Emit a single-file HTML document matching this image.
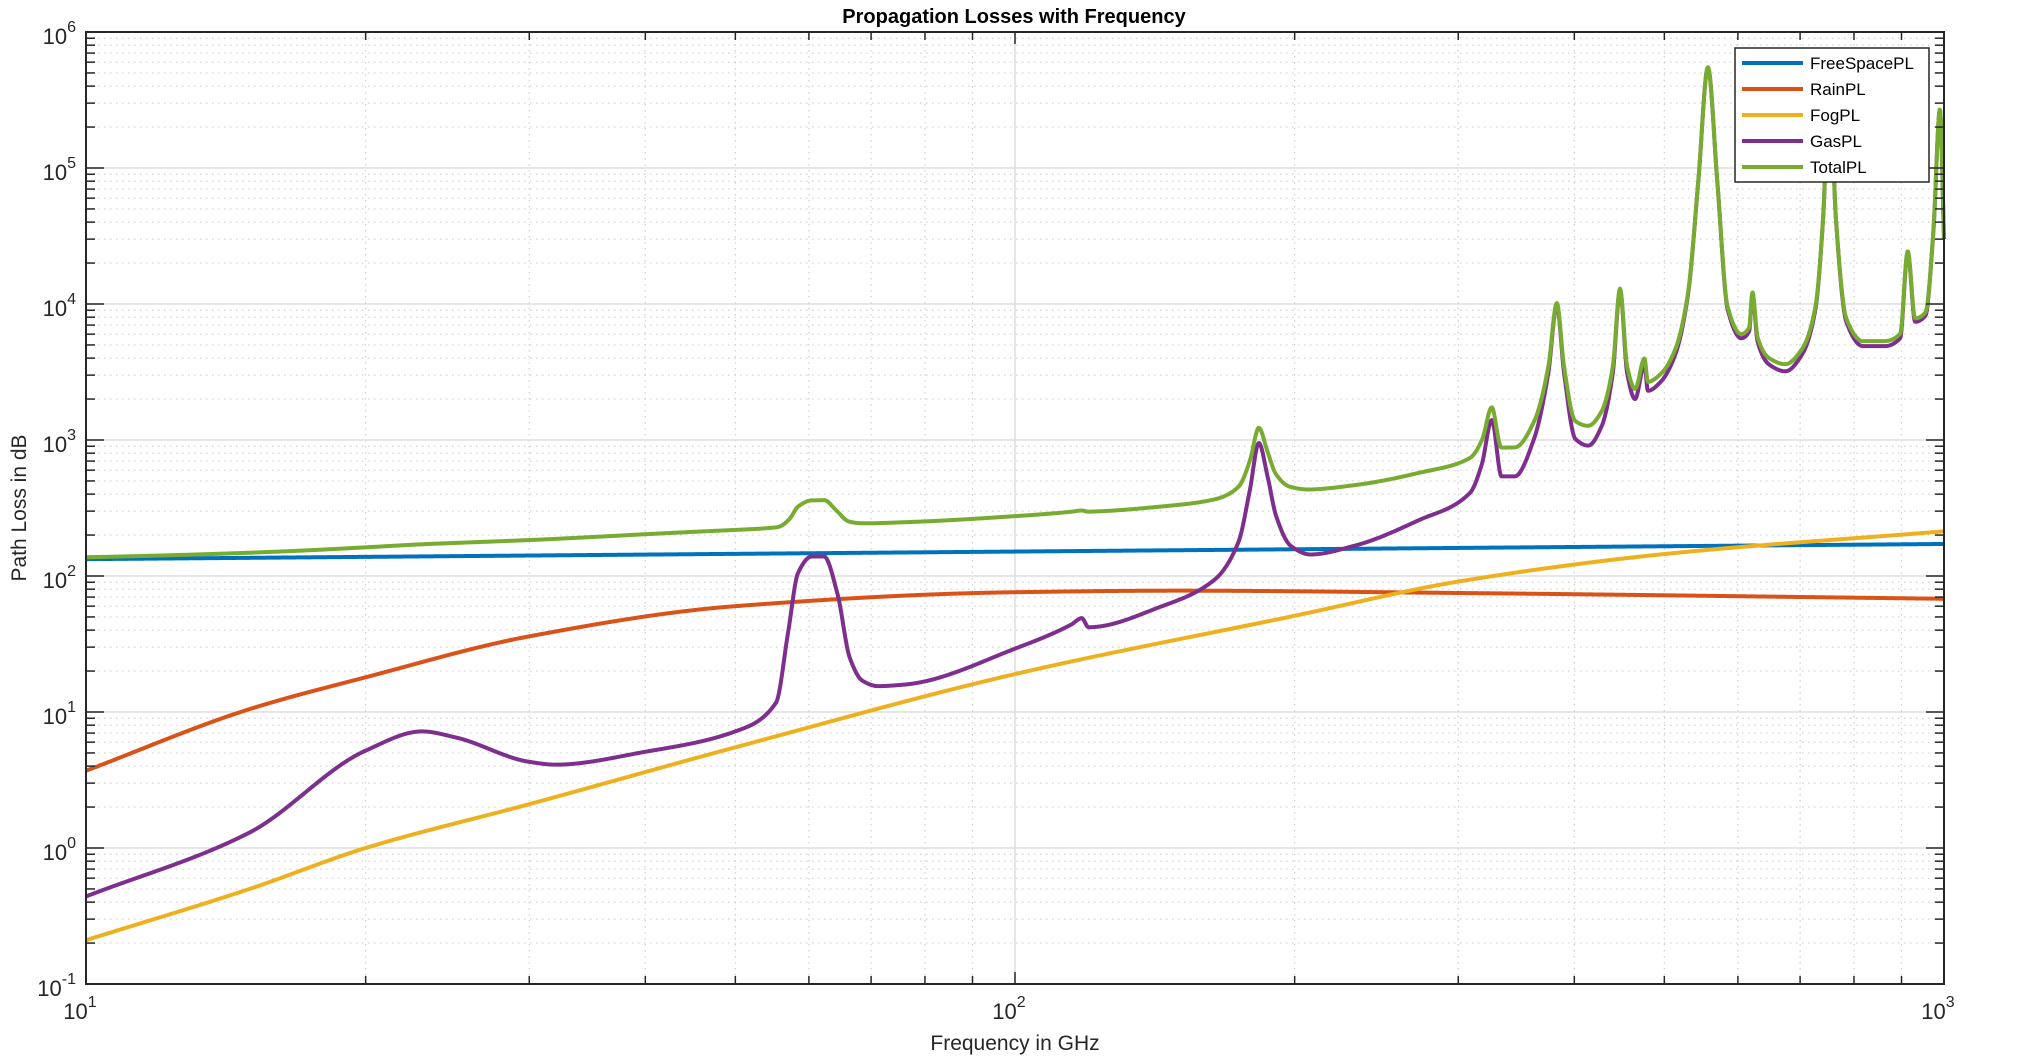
<!DOCTYPE html>
<html><head><meta charset="utf-8"><style>
html,body{margin:0;padding:0;background:#fff;}
svg{display:block;font-family:"Liberation Sans",Arial,sans-serif;}
</style></head><body>
<svg id="chart" width="2021" height="1060" viewBox="0 0 2021 1060" xmlns="http://www.w3.org/2000/svg">
<rect width="2021" height="1060" fill="#fff"/>
<g id="grid"></g>
<g id="series"></g>
<g id="axes"></g>
<text x="1014" y="23" text-anchor="middle" font-size="20" font-weight="bold" fill="#000">Propagation Losses with Frequency</text>
<text x="1015" y="1050" text-anchor="middle" font-size="21" fill="#262626">Frequency in GHz</text>
<text transform="translate(26,508) rotate(-90)" text-anchor="middle" font-size="21" fill="#262626">Path Loss in dB</text>
<g id="legend"></g>
</svg>
<script>
const fsFreq=[10,1000];
const fsVal=[133,172];
const rainFreq=[10,15,20,30,50,100,150,300,1000];
const rainVal=[3.7,10.5,18,36,60,76,78,75,68];
const fogFreq=[10,15,20,30,50,100,200,300,500,1000];
const fogVal=[0.21,0.5,1.0,2.1,5.5,19,51,91,145,213];
const gasFreq=[10,15,20,23,25,30,32,40,50,55.3,57,58.4,60.4,62.3,64.4,66.4,68.5,71.2,76,101,115,118,120,144,164,174,179,183,187,191,198,208,232,272,309,318,326,334,345,362,375,383,390,401,414,428,440,448,456,465,476,480,496,514,530,544,557,570,585,605,617,622,630,648,675,704,727,741,753,765,785,818,863,897,914,931,955,974,990,1000];
const gasVal=[0.44,1.3,5.2,7.2,6.5,4.3,4.1,5.1,7.2,11.7,39,105,139,139,74,25,17,15.5,15.9,30,44,49,42,60,94,178,430,950,540,277,167,144,167,257,410,660,1400,540,540,1020,3100,9800,3100,1020,910,1260,3100,12600,3100,2000,3600,2300,2700,4300,11500,81000,550000,81000,9100,5600,6300,11800,5300,3600,3200,4300,9100,42000,460000,42000,7400,4900,4900,5600,24000,7400,8200,34000,270000,30000];
const legendLabels=["FreeSpacePL","RainPL","FogPL","GasPL","TotalPL"];
const colors=["#0072BD","#D95319","#EDB120","#7E2F8E","#77AC30"];
const xTickExp=[1,2,3];
const yTickExp=[-1,0,1,2,3,4,5,6];

const X0=86,X1=1944,Y0=32,Y1=984;
const xs=f=>X0+(Math.log10(f)-1)/2*(X1-X0);
const ys=v=>Y1-(Math.log10(v)+1)/7*(Y1-Y0);
const NS="http://www.w3.org/2000/svg";
function mk(tag,attrs,parent){const e=document.createElementNS(NS,tag);for(const k in attrs)e.setAttribute(k,attrs[k]);parent.appendChild(e);return e;}
// monotone cubic (PCHIP) interpolation in log-log space
function makeInterp(F,V){
  const x=F.map(Math.log10),y=V.map(Math.log10),n=x.length;
  const h=[],d=[];for(let i=0;i<n-1;i++){h.push(x[i+1]-x[i]);d.push((y[i+1]-y[i])/h[i]);}
  const m=new Array(n).fill(0);
  if(n===2){m[0]=m[1]=d[0];}
  else{
    for(let i=1;i<n-1;i++){ if(d[i-1]*d[i]<=0)m[i]=0; else {const w1=2*h[i]+h[i-1],w2=h[i]+2*h[i-1];m[i]=(w1+w2)/(w1/d[i-1]+w2/d[i]);} }
    m[0]=d[0];m[n-1]=d[n-2];
  }
  return f=>{const lf=Math.log10(f);let i=0;while(i<n-2&&lf>x[i+1])i++;
    const t=Math.min(1,Math.max(0,(lf-x[i])/h[i])),t2=t*t,t3=t2*t;
    const v=(2*t3-3*t2+1)*y[i]+(t3-2*t2+t)*h[i]*m[i]+(-2*t3+3*t2)*y[i+1]+(t3-t2)*h[i]*m[i+1];
    return Math.pow(10,v);};
}
const grid=document.getElementById('grid');
for(let d=1;d<3;d++)for(let m=2;m<=9;m++){const x=xs(m*Math.pow(10,d));
  const l=mk('line',{x1:x,x2:x,y1:Y0,y2:Y1,stroke:'#d0d0d0','stroke-width':1.2,'stroke-dasharray':'1.5 4.5'},grid);
  }
for(let d=-1;d<6;d++)for(let m=2;m<=9;m++){const y=ys(m*Math.pow(10,d));
  const l=mk('line',{x1:X0,x2:X1,y1:y,y2:y,stroke:'#d0d0d0','stroke-width':1.2,'stroke-dasharray':'1.5 4.5'},grid);
  }
xTickExp.forEach(e=>{const x=xs(Math.pow(10,e));const l=mk('line',{x1:x,x2:x,y1:Y0,y2:Y1,stroke:'#dedede','stroke-width':1.5},grid);
  });
yTickExp.forEach(e=>{const y=ys(Math.pow(10,e));const l=mk('line',{x1:X0,x2:X1,y1:y,y2:y,stroke:'#dedede','stroke-width':1.5},grid);
  });

const NP=3000;const freqs=[];for(let i=0;i<=NP;i++)freqs.push(Math.pow(10,1+2*i/NP));
const allSeries=[[fsFreq,fsVal],[rainFreq,rainVal],[fogFreq,fogVal],[gasFreq,gasVal]];
const vals=allSeries.map(s=>{const fn=makeInterp(s[0],s[1]);return freqs.map(fn);});
vals.push(freqs.map((f,i)=>vals[0][i]+vals[1][i]+vals[2][i]+vals[3][i]));
const sg=document.getElementById('series');
const names=['freespace-line','rain-line','fog-line','gas-line','total-line'];
vals.forEach((v,k)=>{
  const d=freqs.map((f,i)=>(i?'L':'M')+xs(f).toFixed(2)+' '+ys(v[i]).toFixed(2)).join(' ');
  const p=mk('path',{d:d,fill:'none',stroke:colors[k],'stroke-width':4,'stroke-linejoin':'round'},sg);
  
});

const ax=document.getElementById('axes');
const box=mk('rect',{x:X0,y:Y0,width:X1-X0,height:Y1-Y0,fill:'none',stroke:'#262626','stroke-width':2},ax);

for(let d=1;d<3;d++)for(let m=1;m<=9;m++){const x=xs(m*Math.pow(10,d));const len=m===1?12:8;
  let t=mk('line',{x1:x,x2:x,y1:Y1,y2:Y1-len,stroke:'#262626','stroke-width':1.5},ax);
  t=mk('line',{x1:x,x2:x,y1:Y0,y2:Y0+len,stroke:'#262626','stroke-width':1.5},ax);}
for(let d=-1;d<6;d++)for(let m=1;m<=9;m++){const y=ys(m*Math.pow(10,d));const len=m===1?18:9;
  let t=mk('line',{x1:X0,x2:X0+len,y1:y,y2:y,stroke:'#262626','stroke-width':1.5},ax);
  t=mk('line',{x1:X1,x2:X1-len,y1:y,y2:y,stroke:'#262626','stroke-width':1.5},ax);}
xTickExp.forEach(e=>{const x=xs(Math.pow(10,e));
  const t=mk('text',{x:x-6,y:1019,'text-anchor':'middle','font-size':22,fill:'#262626'},ax);
  
  t.appendChild(document.createTextNode('10'));
  const s=mk('tspan',{dy:-12,'font-size':16},t);s.textContent=String(e);});
yTickExp.forEach(e=>{const y=ys(Math.pow(10,e));
  const t=mk('text',{x:76,y:y+12,'text-anchor':'end','font-size':22,fill:'#262626'},ax);
  
  t.appendChild(document.createTextNode('10'));
  const s=mk('tspan',{dy:-12,'font-size':16},t);s.textContent=String(e);});

const lg=document.getElementById('legend');
const lb=mk('rect',{x:1735,y:48,width:194,height:134,fill:'#fff',stroke:'#262626','stroke-width':1.5},lg);

legendLabels.forEach((lab,i)=>{const y=63+i*26;
  const g=mk('g',{},lg);
  const l=mk('line',{x1:1742,x2:1803,y1:y,y2:y,stroke:colors[i],'stroke-width':4},g);
  
  const t=mk('text',{x:1810,y:y+6,'font-size':17,fill:'#000'},g);t.textContent=lab;
  });
</script>
</body></html>
